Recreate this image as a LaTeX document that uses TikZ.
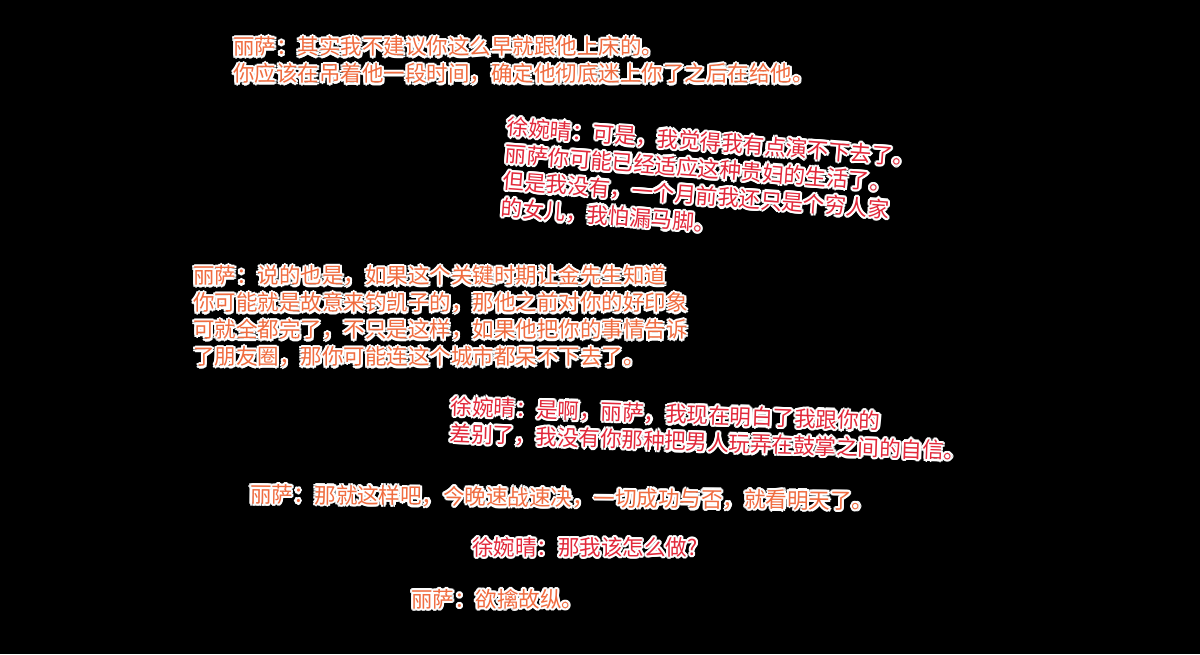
\documentclass[tikz,border=0pt]{standalone}
\usepackage{fontspec}
\setmainfont{Noto Sans CJK SC}
\usetikzlibrary{positioning}

\definecolor{lisaorange}{RGB}{240,108,64}
\definecolor{wanqingred}{RGB}{226,40,58}

\tikzset{
	line/.style={inner sep=0pt, anchor=north west, align=left,
		font=\fontsize{21.5}{27}\selectfont},
	lisa/.style={line, text=lisaorange},
	wanqing/.style={line, text=wanqingred},
}

% name, style, position, angle, text
\newcommand{\speech}[5]{%
	\foreach \a in {0,30,...,330}
		\node [#2, text=white, rotate=#4] at ([shift={(\a:2.2)}]#3) {#5};
	\node [#2, rotate=#4] (#1) at (#3) {#5};
}

\begin{document}
\begin{tikzpicture}[x=1pt, y=-1pt]

		\fill [black] (0, 0) rectangle (1200, 654);

		\speech{lisaA}{lisa}{233, 36.5}{0}{丽萨：其实我不建议你这么早就跟他上床的。\\你应该在吊着他一段时间，确定他彻底迷上你了之后在给他。}
		\speech{wanqingA}{wanqing}{508, 116.5}{-4.3}{徐婉晴：可是，我觉得我有点演不下去了。\\丽萨你可能已经适应这种贵妇的生活了。\\但是我没有，一个月前我还只是个穷人家\\的女儿，我怕漏马脚。}
		\speech{lisaB}{lisa}{193, 265.5}{0}{丽萨：说的也是，如果这个关键时期让金先生知道\\你可能就是故意来钓凯子的，那他之前对你的好印象\\可就全都完了，不只是这样，如果他把你的事情告诉\\了朋友圈，那你可能连这个城市都呆不下去了。}
		\speech{wanqingB}{wanqing}{451, 396}{-2}{徐婉晴：是啊，丽萨，我现在明白了我跟你的\\差别了，我没有你那种把男人玩弄在鼓掌之间的自信。}
		\speech{lisaC}{lisa}{250, 484}{-0.6}{丽萨：那就这样吧，今晚速战速决，一切成功与否，就看明天了。}
		\speech{wanqingC}{wanqing}{472, 537}{0}{徐婉晴：那我该怎么做?}
		\speech{lisaD}{lisa}{411, 589}{0}{丽萨：欲擒故纵。}

	\end{tikzpicture}
\end{document}
